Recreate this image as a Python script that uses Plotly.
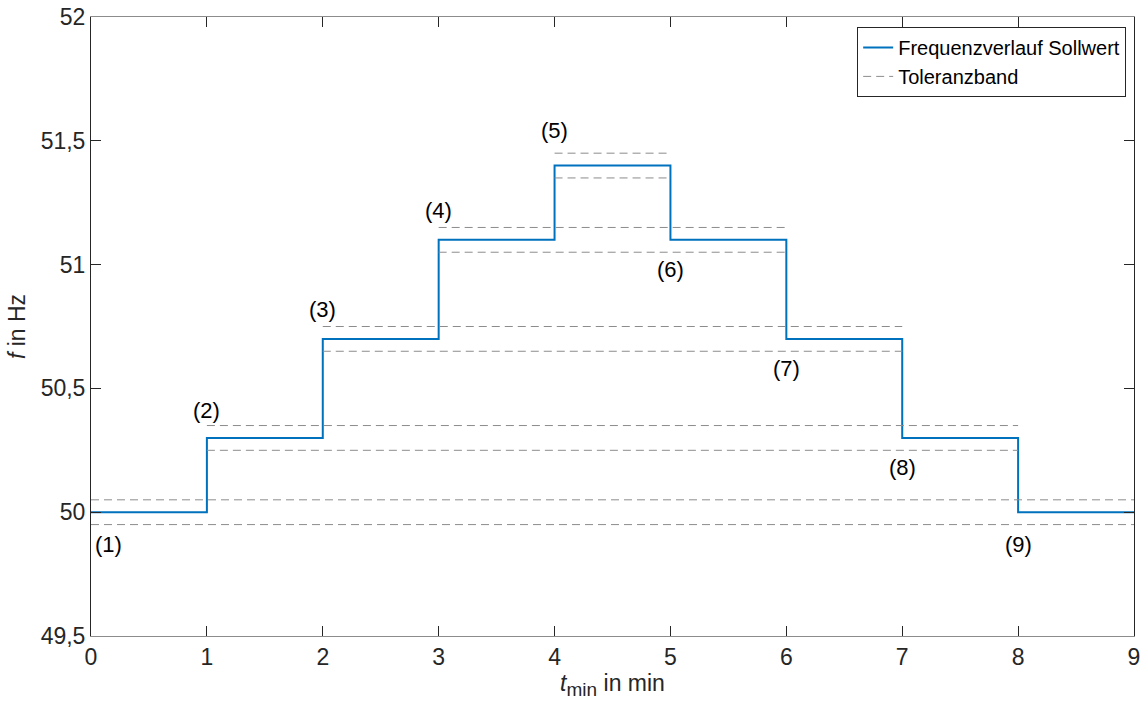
import plotly.graph_objects as go

# Data
step_times = [0, 1, 2, 3, 4, 5, 6, 7, 8, 9]
setpoints = [50.0, 50.3, 50.7, 51.1, 51.4, 51.1, 50.7, 50.3, 50.0, 50.0]
tolerance = 0.05
band_levels = [50.0, 50.3, 50.7, 51.1, 51.4]
band_start = [0, 1, 2, 3, 4]
band_end = [9, 8, 7, 6, 5]
label_texts = ["(1)", "(2)", "(3)", "(4)", "(5)", "(6)", "(7)", "(8)", "(9)"]
label_t = [0.15, 1.0, 2.0, 3.0, 4.0, 5.0, 6.0, 7.0, 8.0]
label_f = [49.87, 50.41, 50.82, 51.22, 51.54, 50.98, 50.58, 50.18, 49.87]

FONT = "Liberation Sans, Arial, sans-serif"

fig = go.Figure()

tx, ty = [], []
for lvl, s, e in zip(band_levels, band_start, band_end):
    for off in (tolerance, -tolerance):
        tx += [s, e, None]
        ty += [lvl + off, lvl + off, None]

fig.add_trace(go.Scatter(
    x=step_times, y=setpoints, mode="lines", line_shape="hv",
    line=dict(color="#0072BD", width=2), name="Frequenzverlauf Sollwert"))
fig.add_trace(go.Scatter(
    x=tx, y=ty, mode="lines", line=dict(color="#8c8c8c", width=1, dash="8px,5px"),
    name="Toleranzband", connectgaps=False))

for t, f, s in zip(label_t, label_f, label_texts):
    fig.add_annotation(x=t, y=f, text=s, showarrow=False,
                       font=dict(family=FONT, size=22, color="#000"),
                       xanchor="center", yanchor="middle")

fig.update_layout(
    width=1142, height=713,
    margin=dict(l=91, r=8, t=17, b=77, autoexpand=False),
    paper_bgcolor="white", plot_bgcolor="white",
    separators=",.",
    font=dict(family=FONT, size=23, color="#262626"),
    showlegend=True,
    legend=dict(x=0.9925, y=0.984, xanchor="right", yanchor="top",
                bgcolor="white", bordercolor="#262626", borderwidth=1,
                font=dict(family=FONT, size=20, color="#000"),
                tracegroupgap=0, itemwidth=30),
    xaxis=dict(range=[0, 9], tickvals=list(range(10)), ticks="inside", ticklen=10,
               tickcolor="#262626", showline=True, linecolor="#8c8c8c", linewidth=1,
               mirror="ticks", showgrid=False, zeroline=False, automargin=False,
               tickfont=dict(size=23),
               title=dict(text="<i>t</i><sub><span style='font-size:19px'>min</span></sub> in min",
                          font=dict(size=23, color="#262626"), standoff=6)),
    yaxis=dict(range=[49.5, 52], dtick=0.5, tick0=49.5, ticks="inside", ticklen=10,
               tickcolor="#262626", showline=True, linecolor="#262626", linewidth=1,
               mirror="ticks", showgrid=False, zeroline=False, automargin=False,
               tickfont=dict(size=23),
               title=dict(text="<i>f</i> in Hz", font=dict(size=23, color="#262626"), standoff=8)),
)

fig.write_html("out.html", config={"displayModeBar": False},
               post_script="document.body.style.margin='0px';document.body.style.overflow='hidden';")
